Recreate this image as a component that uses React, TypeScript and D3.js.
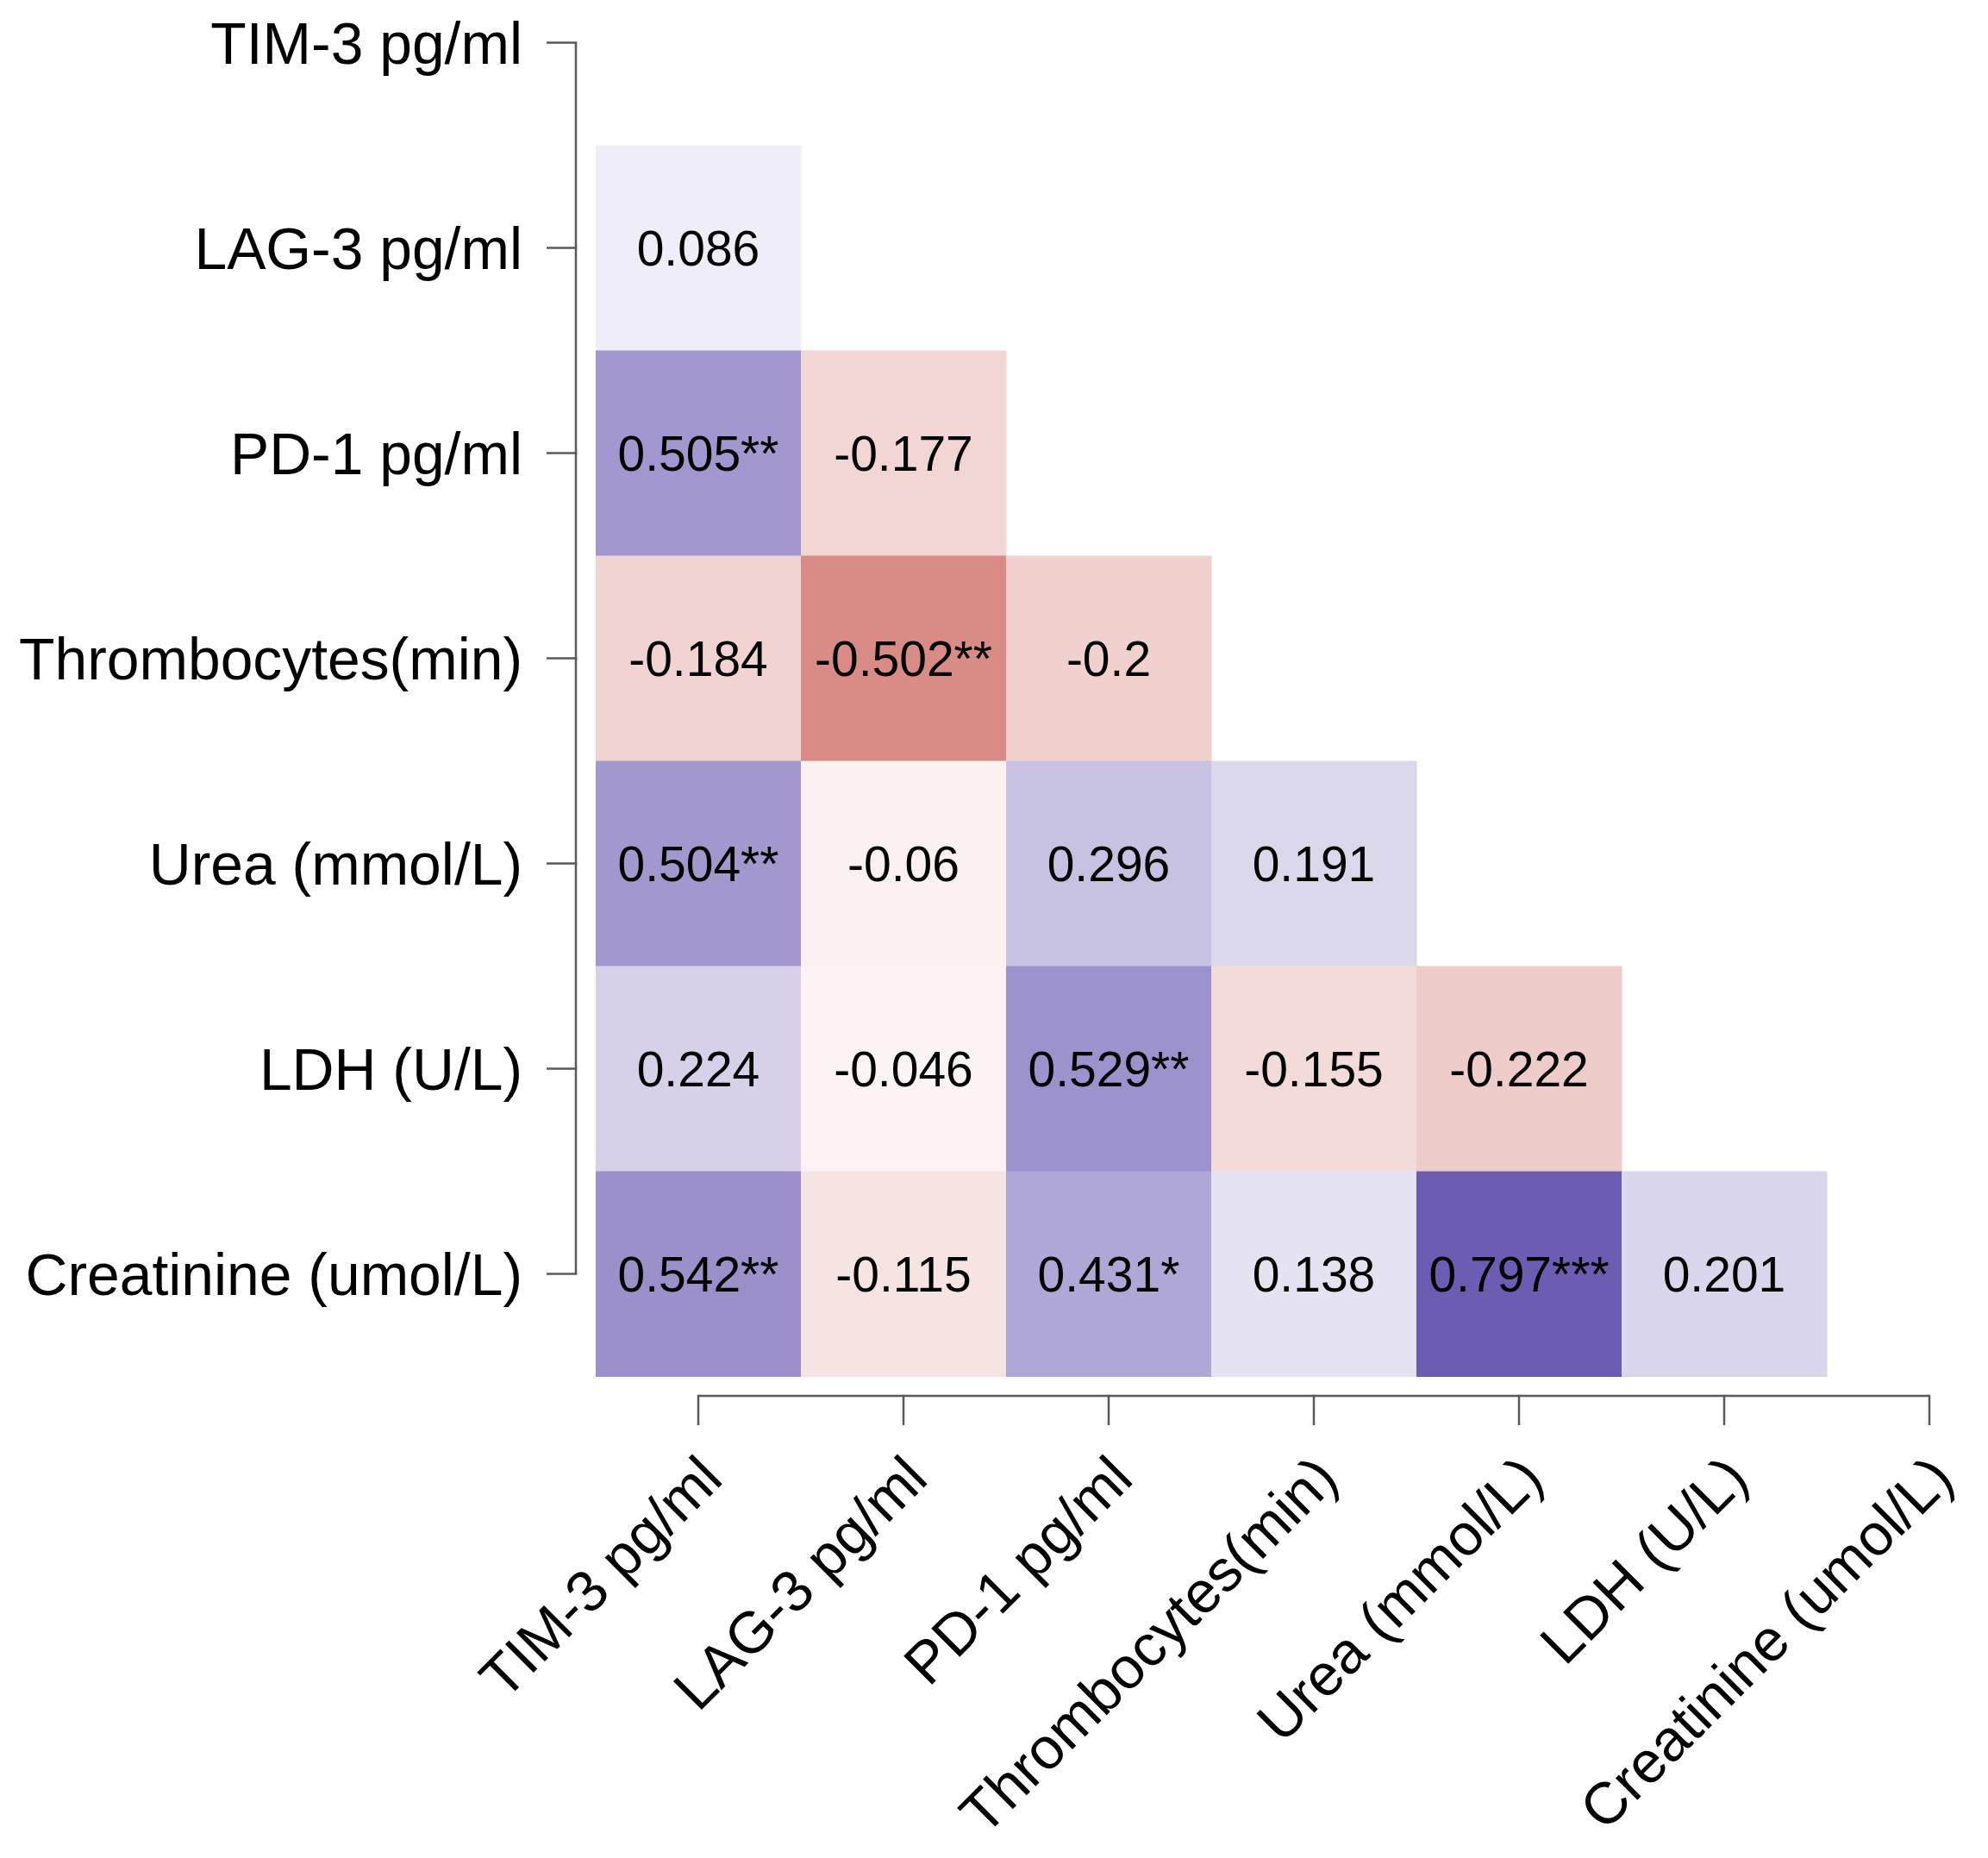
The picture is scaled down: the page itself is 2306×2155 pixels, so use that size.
import React, { useRef, useEffect } from 'react'
import * as d3 from 'd3'

// variables, in the order they appear on both axes
const variables = [
  'TIM-3 pg/ml',
  'LAG-3 pg/ml',
  'PD-1 pg/ml',
  'Thrombocytes(min)',
  'Urea (mmol/L)',
  'LDH (U/L)',
  'Creatinine (umol/L)',
]

// lower triangle, row i holds the correlations with variables 0..i-1
const corrLAG3 = [0.086]
const corrPD1 = [0.505, -0.177]
const corrThromb = [-0.184, -0.502, -0.2]
const corrUrea = [0.504, -0.06, 0.296, 0.191]
const corrLDH = [0.224, -0.046, 0.529, -0.155, -0.222]
const corrCreat = [0.542, -0.115, 0.431, 0.138, 0.797, 0.201]

const starsLAG3 = ['']
const starsPD1 = ['**', '']
const starsThromb = ['', '**', '']
const starsUrea = ['**', '', '', '']
const starsLDH = ['', '', '**', '', '']
const starsCreat = ['**', '', '*', '', '***', '']

const corrRows = [[], corrLAG3, corrPD1, corrThromb, corrUrea, corrLDH, corrCreat]
const starRows = [[], starsLAG3, starsPD1, starsThromb, starsUrea, starsLDH, starsCreat]

export default function App() {
  const svgRef = useRef<SVGSVGElement>(null)
  const width = 2306
  const height = 2155

  useEffect(() => {
    if (!svgRef.current) return
    const svg = d3.select(svgRef.current)
    svg.selectAll('*').remove()

    const font = '"Liberation Sans", Arial, sans-serif'
    const step = 238
    const firstX = 810
    const firstY = 49.5

    const x = d3.scaleBand<string>()
      .domain(variables)
      .range([firstX - step / 2, firstX - step / 2 + step * variables.length])
      .padding(0)
    const y = d3.scaleBand<string>()
      .domain(variables)
      .range([firstY - step / 2, firstY - step / 2 + step * variables.length])
      .padding(0)

    const colPos = d3.interpolateRgb('#ffffff', '#46329e')
    const colNeg = d3.interpolateRgb('#ffffff', '#b3180c')
    const color = (v: number) => (v >= 0 ? colPos(v) : colNeg(-v))

    const cells: { row: string; col: string; v: number; s: string }[] = []
    corrRows.forEach((vals, i) => {
      vals.forEach((v, j) => {
        cells.push({ row: variables[i], col: variables[j], v, s: starRows[i][j] })
      })
    })

    // tiles
    svg.append('g')
      .selectAll('rect')
      .data(cells)
      .join('rect')
      .attr('x', d => x(d.col)!)
      .attr('y', d => y(d.row)!)
      .attr('width', x.bandwidth() + 0.5)
      .attr('height', y.bandwidth() + 0.5)
      .attr('fill', d => color(d.v))

    // values
    svg.append('g')
      .selectAll('text')
      .data(cells)
      .join('text')
      .attr('x', d => x(d.col)! + x.bandwidth() / 2)
      .attr('y', d => y(d.row)! + y.bandwidth() / 2 + 20)
      .attr('text-anchor', 'middle')
      .attr('font-family', font)
      .attr('font-size', 57)
      .attr('fill', '#000')
      .text(d => `${d.v}${d.s}`)

    const axisColor = '#5a5a5a'
    const cx = (v: string) => x(v)! + x.bandwidth() / 2
    const cy = (v: string) => y(v)! + y.bandwidth() / 2

    // y axis
    const axisX = 668
    const gy = svg.append('g')
    gy.append('line')
      .attr('x1', axisX).attr('x2', axisX)
      .attr('y1', cy(variables[0])).attr('y2', cy(variables[variables.length - 1]))
      .attr('stroke', axisColor).attr('stroke-width', 2.5)
    gy.selectAll('line.tick')
      .data(variables)
      .join('line')
      .attr('class', 'tick')
      .attr('x1', axisX - 34).attr('x2', axisX + 1.25)
      .attr('y1', d => cy(d)).attr('y2', d => cy(d))
      .attr('stroke', axisColor).attr('stroke-width', 2.5)
    gy.selectAll('text')
      .data(variables)
      .join('text')
      .attr('x', 606)
      .attr('y', d => cy(d) + 24)
      .attr('text-anchor', 'end')
      .attr('font-family', font)
      .attr('font-size', 67.8)
      .attr('fill', '#000')
      .text(d => d)

    // x axis
    const axisY = 1619
    const gx = svg.append('g')
    gx.append('line')
      .attr('x1', cx(variables[0])).attr('x2', cx(variables[variables.length - 1]))
      .attr('y1', axisY).attr('y2', axisY)
      .attr('stroke', axisColor).attr('stroke-width', 2.5)
    gx.selectAll('line.tick')
      .data(variables)
      .join('line')
      .attr('class', 'tick')
      .attr('x1', d => cx(d)).attr('x2', d => cx(d))
      .attr('y1', axisY - 1.25).attr('y2', axisY + 34)
      .attr('stroke', axisColor).attr('stroke-width', 2.5)
    gx.selectAll('text')
      .data(variables)
      .join('text')
      .attr('transform', d => `translate(${cx(d) + 31},${1718}) rotate(-45)`)
      .attr('text-anchor', 'end')
      .attr('font-family', font)
      .attr('font-size', 67.8)
      .attr('fill', '#000')
      .text(d => d)
  }, [])

  return (
    <svg
      ref={svgRef}
      width={width}
      height={height}
      style={{ position: 'absolute', left: 0, top: 0, background: '#fff' }}
    />
  )
}
